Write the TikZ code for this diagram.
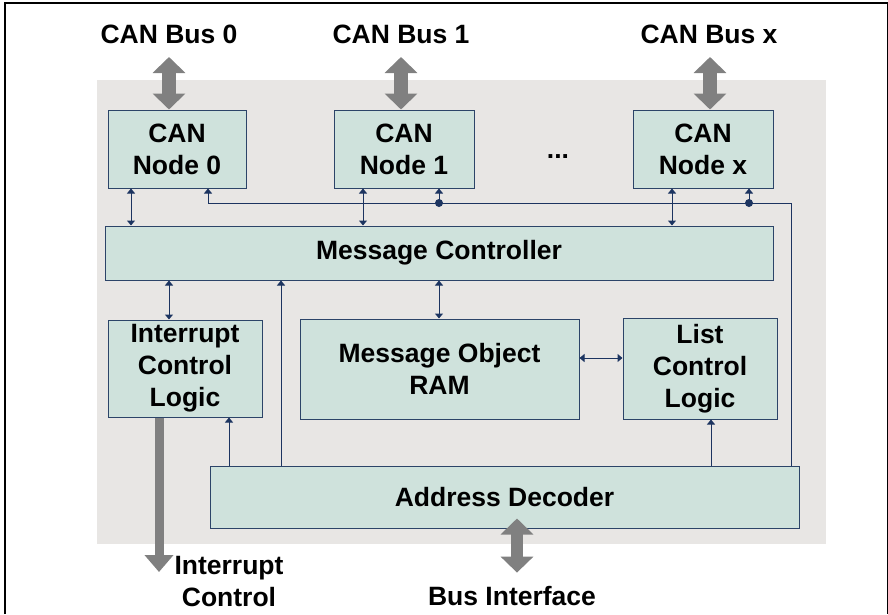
\documentclass[tikz,border=0pt]{standalone}
\usepackage{fontspec}
\setmainfont{Liberation Sans}
\usetikzlibrary{arrows.meta}
\definecolor{boxfill}{RGB}{207,226,220}
\definecolor{boxline}{RGB}{44,68,104}
\definecolor{wire}{RGB}{28,52,96}
\definecolor{backdrop}{RGB}{232,230,228}
\definecolor{busgray}{RGB}{128,128,128}
\tikzstyle{block} = [rectangle, draw=boxline, fill=boxfill, line width=1pt, inner sep=0pt, align=center, font=\fontsize{26.5}{32}\selectfont\bfseries]
\tikzstyle{bustext} = [inner sep=0pt, align=center, font=\fontsize{26.5}{32}\selectfont\bfseries]
\tikzstyle{link} = [draw=wire, line width=1pt, {Triangle[width=8pt,length=5pt]}-{Triangle[width=8pt,length=5pt]}]
\tikzstyle{uplink} = [draw=wire, line width=1pt, -{Triangle[width=8pt,length=5pt]}]
\tikzstyle{bus} = [draw=busgray, line width=14pt, {Triangle[width=32pt,length=16pt]}-{Triangle[width=32pt,length=16pt]}]

\begin{document}
\begin{tikzpicture}[x=1pt,y=-1pt]
\useasboundingbox (0,0) rectangle (888,614);
\draw[line width=2pt] (5,614) -- (5,3) -- (888,3);
\draw[line width=1pt] (887,3) -- (887,614);
\fill[backdrop] (97,80) rectangle (826,544);

% blocks
\node[block, minimum width=138pt, minimum height=78pt] (cn0) at (177,149) {CAN\\Node 0};
\node[block, minimum width=140pt, minimum height=78pt] (cn1) at (404,149) {CAN\\Node 1};
\node[block, minimum width=140pt, minimum height=78pt] (cnx) at (703,149) {CAN\\Node x};
\node[bustext, anchor=base] (dots) at (558,158) {...};
\node[block, minimum width=668pt, minimum height=54pt] (mc) at (439,253) {Message Controller};
\node[block, minimum width=154pt, minimum height=97pt] (icl) at (185,368.5) {Interrupt\\Control\\Logic};
\node[block, minimum width=279pt, minimum height=100pt] (mor) at (439.5,369) {Message Object\\RAM};
\node[block, minimum width=154pt, minimum height=101pt] (lcl) at (700,368.5) {List\\Control\\Logic};
\node[block, minimum width=589pt, minimum height=62pt] (ad) at (504.5,497) {Address Decoder};

% outside labels
\node[bustext, anchor=base] (bus0) at (169,43) {CAN Bus 0};
\node[bustext, anchor=base] (bus1) at (401,43) {CAN Bus 1};
\node[bustext, anchor=base] (busx) at (709,43) {CAN Bus x};
\node[bustext, anchor=north] (irq) at (229,556) {Interrupt\\Control};
\node[bustext, anchor=base] (bif) at (512,605) {Bus Interface};

% rails
\coordinate (r0) at (131,0);
\coordinate (r1) at (363,0);
\coordinate (rx) at (672,0);
\coordinate (s0) at (208,0);
\coordinate (s1) at (439,0);
\coordinate (sx) at (749,0);
\coordinate (ret) at (791,0);
\coordinate (ri) at (169,0);
\coordinate (ra) at (281,0);
\coordinate (ai) at (229,0);
\coordinate (al) at (711,0);
\coordinate (fb) at (0,203);
\coordinate (rowm) at (0,358);
\coordinate (bx) at (517,0);
\coordinate (ix) at (159,0);

% CAN buses
\draw[bus] ([yshift=-14pt]bus0.base) -- (cn0.north -| bus0.base);
\draw[bus] ([yshift=-14pt]bus1.base) -- (cn1.north -| bus1.base);
\draw[bus] ([yshift=-14pt]busx.base -| 710,0) -- (cnx.north -| 710,0);

% node links
\draw[link] (cn0.south -| r0) -- (mc.north -| r0);
\draw[link] (cn1.south -| r1) -- (mc.north -| r1);
\draw[link] (cnx.south -| rx) -- (mc.north -| rx);
\draw[uplink] (ad.north -| ret) |- (fb -| s0) -- (cn0.south -| s0);
\draw[uplink] (fb -| s1) -- (cn1.south -| s1);
\draw[uplink] (fb -| sx) -- (cnx.south -| sx);
\fill[wire] (fb -| s1) circle (4pt);
\fill[wire] (fb -| sx) circle (4pt);

\draw[link] (mc.south -| ri) -- (icl.north -| ri);
\draw[link] (mc.south -| s1) -- (mor.north -| s1);
\draw[link] (mor.east |- rowm) -- (lcl.west |- rowm);
\draw[uplink] (ad.north -| ra) -- (mc.south -| ra);
\draw[uplink] (ad.north -| ai) -- (icl.south -| ai);
\draw[uplink] (ad.north -| al) -- (lcl.south -| al);

% interrupt and bus interface
\draw[draw=busgray, line width=9pt, -{Triangle[width=28pt,length=17pt]}] (icl.south -| ix) -- ([yshift=-16pt]irq.north -| ix);
\draw[bus, line width=12pt] ([yshift=10pt]ad.south -| bx) -- ([yshift=13pt]bif.north -| bx);
\end{tikzpicture}
\end{document}
